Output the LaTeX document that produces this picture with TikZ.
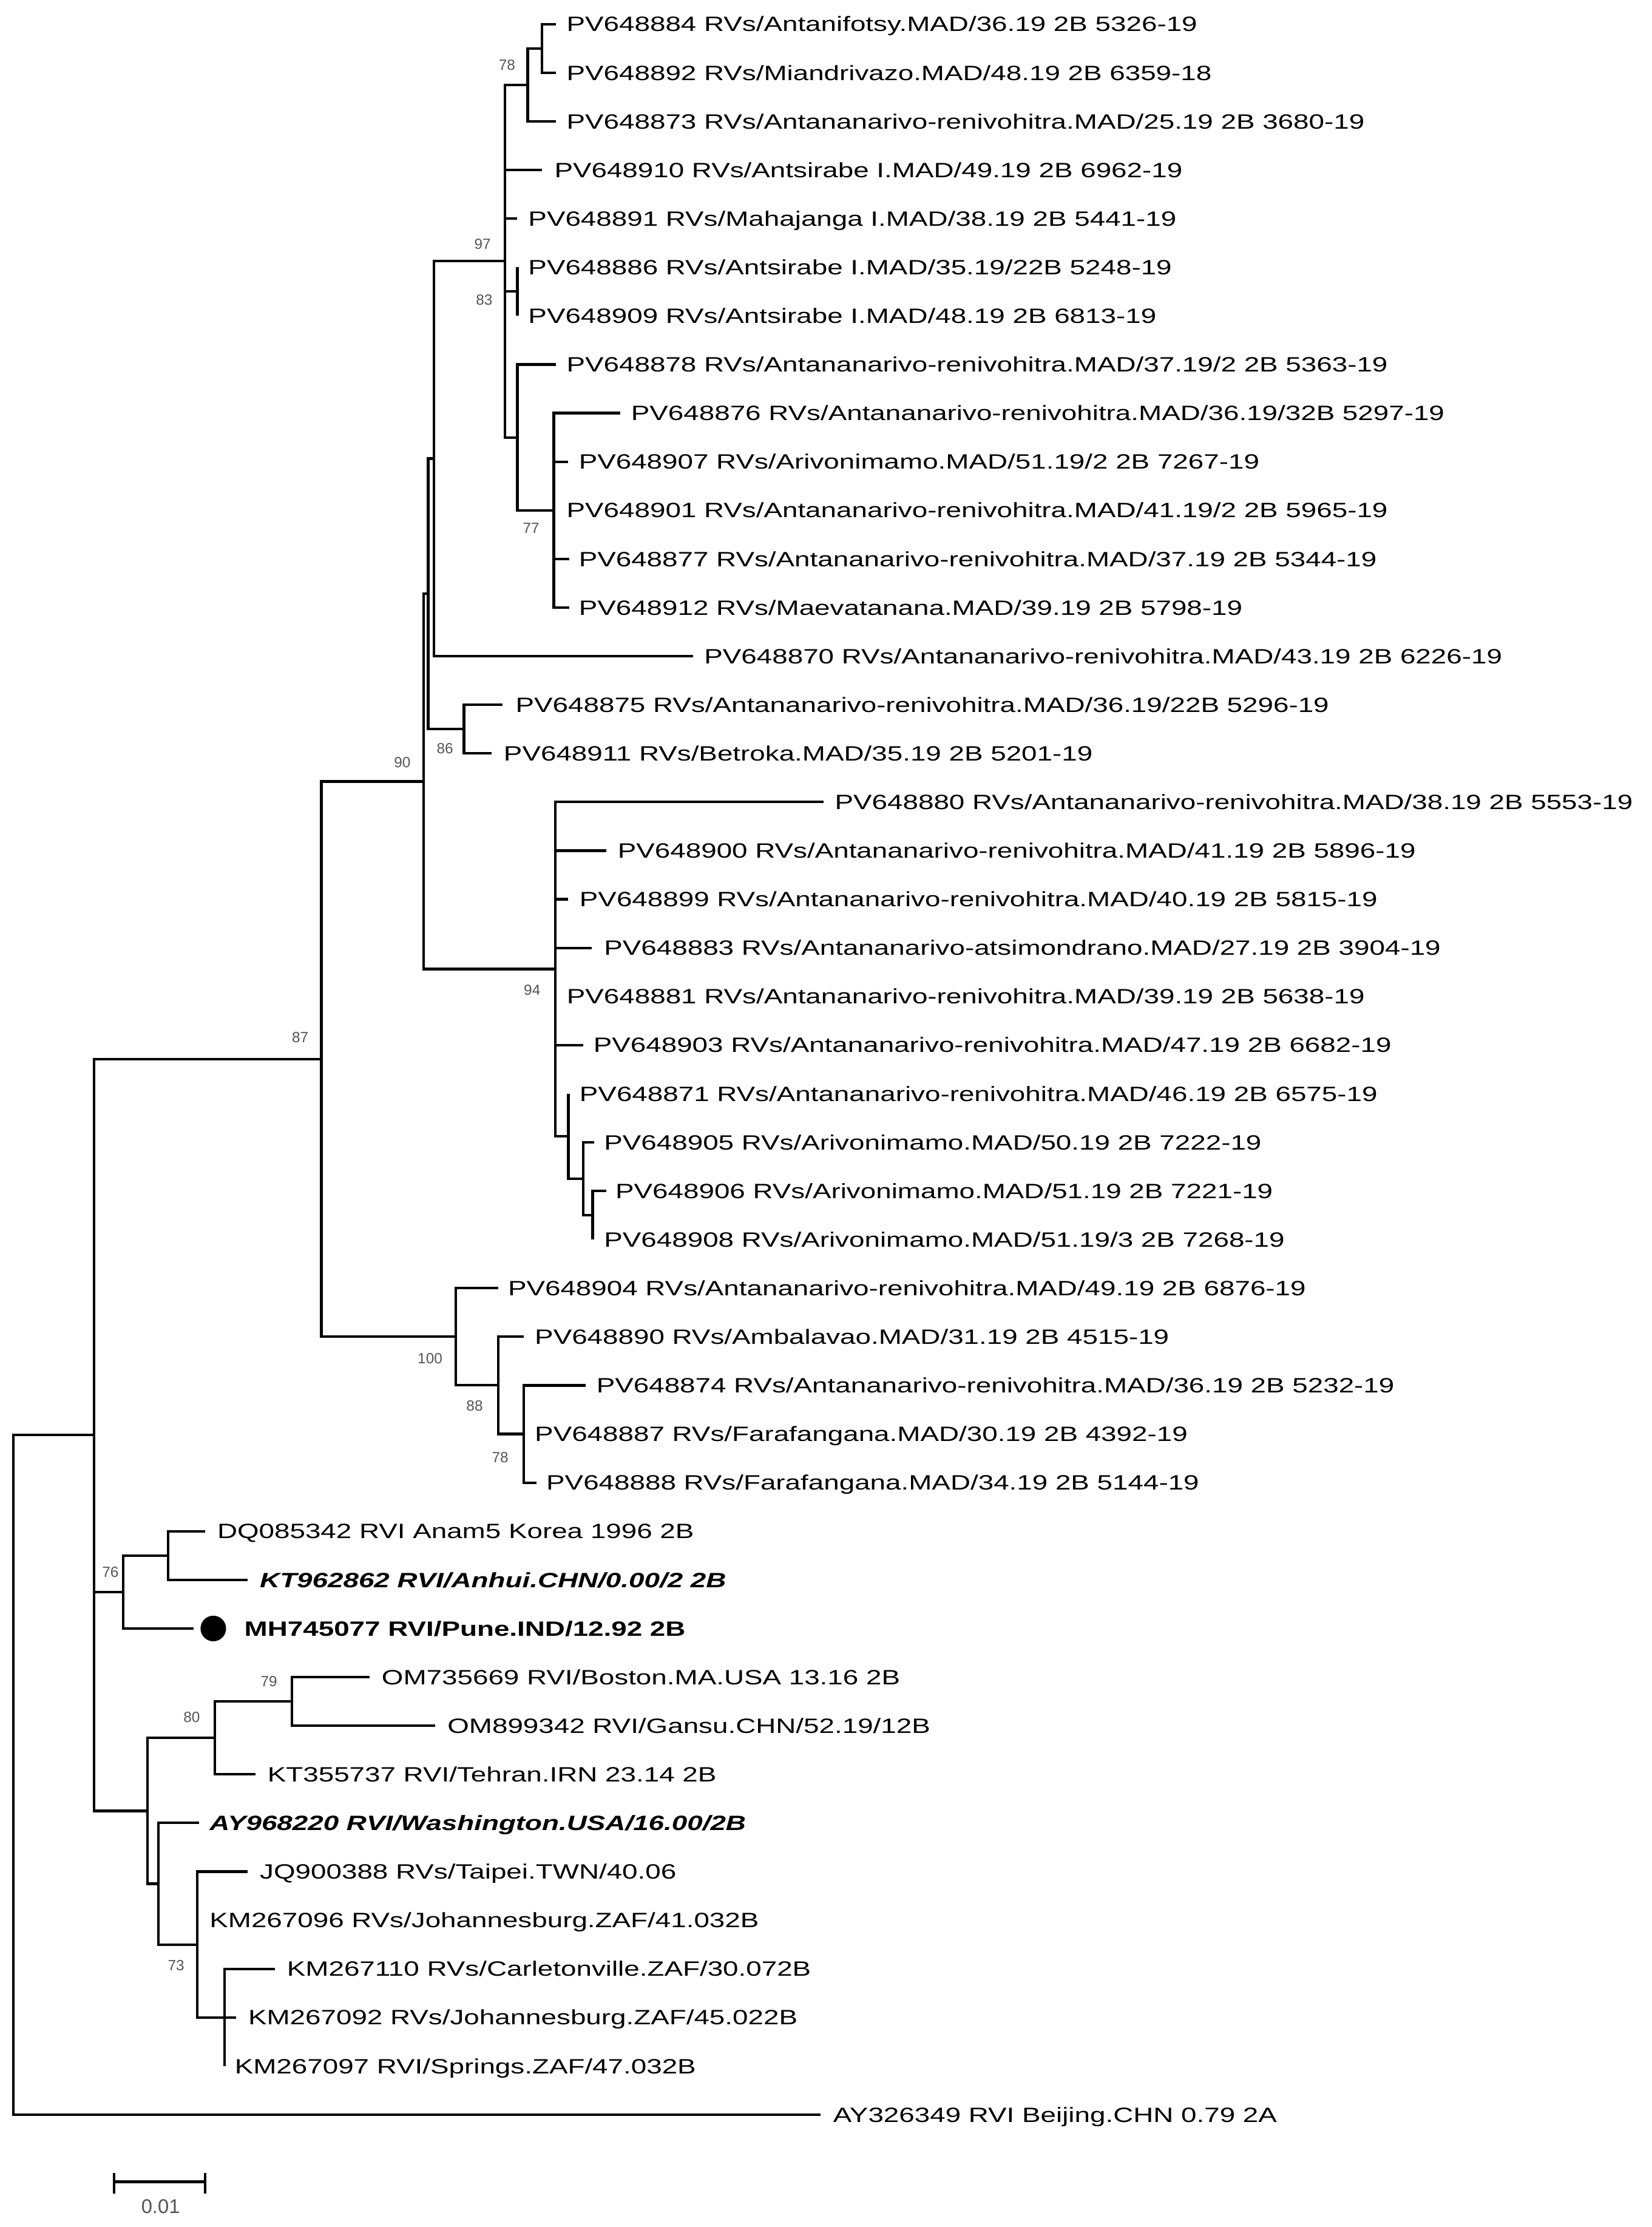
\documentclass[tikz,border=0pt]{standalone}
\usepackage{fontspec}
\setmainfont{Liberation Sans}[FakeStretch=1.34]
\newfontfamily\bsfam{Liberation Sans}
\definecolor{bsgray}{HTML}{555555}
\newcommand\leaffont{\fontsize{7.3}{8.5}\selectfont}
\newcommand\bsfont{\bsfam\fontsize{5.2}{6}\selectfont}
\newcommand\sbfont{\bsfam\fontsize{7}{8}\selectfont}
\newcommand\leaf[5]{%
  \coordinate (t#1) at (#2,#3);
  \node[lab] (l#1) at (#4,#3+5.2) {#5};}
\begin{document}
\begin{tikzpicture}[x=0.5pt,y=-0.5pt,
  br/.style={draw=black,line width=0.9pt},
  lab/.style={anchor=base west,inner sep=0pt,font=\leaffont,text=black},
  bs/.style={inner sep=0pt,font=\bsfont,text=bsgray},
  dotnode/.style={circle,fill=black,inner sep=0pt,minimum size=9pt}]
\fill[white] (0,0) rectangle (1163,1568);
\useasboundingbox (0,0) rectangle (1163,1568);

% ---------- leaves ----------
\leaf{884}{391.3}{17}{398.6}{PV648884 RVs/Antanifotsy.MAD/36.19 2B 5326-19}
\leaf{892}{391.3}{51.23}{398.6}{PV648892 RVs/Miandrivazo.MAD/48.19 2B 6359-18}
\leaf{873}{391.3}{85.46}{398.6}{PV648873 RVs/Antananarivo-renivohitra.MAD/25.19 2B 3680-19}
\leaf{910}{381.5}{119.69}{390}{PV648910 RVs/Antsirabe I.MAD/49.19 2B 6962-19}
\leaf{891}{364.3}{153.92}{371.6}{PV648891 RVs/Mahajanga I.MAD/38.19 2B 5441-19}
\leaf{886}{364.3}{188.15}{371.6}{PV648886 RVs/Antsirabe I.MAD/35.19/22B 5248-19}
\leaf{909}{364.3}{222.38}{371.6}{PV648909 RVs/Antsirabe I.MAD/48.19 2B 6813-19}
\leaf{878}{391.3}{256.61}{398.6}{PV648878 RVs/Antananarivo-renivohitra.MAD/37.19/2 2B 5363-19}
\leaf{876}{436.6}{290.84}{444}{PV648876 RVs/Antananarivo-renivohitra.MAD/36.19/32B 5297-19}
\leaf{907}{399.8}{325.07}{407.2}{PV648907 RVs/Arivonimamo.MAD/51.19/2 2B 7267-19}
\leaf{901}{390}{359.3}{398.6}{PV648901 RVs/Antananarivo-renivohitra.MAD/41.19/2 2B 5965-19}
\leaf{877}{400.9}{393.53}{407.2}{PV648877 RVs/Antananarivo-renivohitra.MAD/37.19 2B 5344-19}
\leaf{912}{400.9}{427.76}{407.2}{PV648912 RVs/Maevatanana.MAD/39.19 2B 5798-19}
\leaf{870}{488}{461.99}{495.5}{PV648870 RVs/Antananarivo-renivohitra.MAD/43.19 2B 6226-19}
\leaf{875}{353.7}{496.22}{362.7}{PV648875 RVs/Antananarivo-renivohitra.MAD/36.19/22B 5296-19}
\leaf{911}{346.2}{530.45}{354.3}{PV648911 RVs/Betroka.MAD/35.19 2B 5201-19}
\leaf{880}{580}{564.68}{587.5}{PV648880 RVs/Antananarivo-renivohitra.MAD/38.19 2B 5553-19}
\leaf{900}{427.1}{598.91}{434.6}{PV648900 RVs/Antananarivo-renivohitra.MAD/41.19 2B 5896-19}
\leaf{899}{400.2}{633.14}{407.7}{PV648899 RVs/Antananarivo-renivohitra.MAD/40.19 2B 5815-19}
\leaf{883}{416.6}{667.37}{425}{PV648883 RVs/Antananarivo-atsimondrano.MAD/27.19 2B 3904-19}
\leaf{881}{391.2}{701.6}{398.7}{PV648881 RVs/Antananarivo-renivohitra.MAD/39.19 2B 5638-19}
\leaf{903}{410.7}{735.83}{417.5}{PV648903 RVs/Antananarivo-renivohitra.MAD/47.19 2B 6682-19}
\leaf{871}{400.2}{770.06}{407.7}{PV648871 RVs/Antananarivo-renivohitra.MAD/46.19 2B 6575-19}
\leaf{905}{418.2}{804.29}{425}{PV648905 RVs/Arivonimamo.MAD/50.19 2B 7222-19}
\leaf{906}{427.1}{838.52}{433}{PV648906 RVs/Arivonimamo.MAD/51.19 2B 7221-19}
\leaf{908}{417.3}{872.75}{425}{PV648908 RVs/Arivonimamo.MAD/51.19/3 2B 7268-19}
\leaf{904}{350.7}{906.98}{357.3}{PV648904 RVs/Antananarivo-renivohitra.MAD/49.19 2B 6876-19}
\leaf{890}{368.7}{941.21}{376.2}{PV648890 RVs/Ambalavao.MAD/31.19 2B 4515-19}
\leaf{874}{412.2}{975.44}{419.6}{PV648874 RVs/Antananarivo-renivohitra.MAD/36.19 2B 5232-19}
\leaf{887}{368.7}{1009.67}{376.2}{PV648887 RVs/Farafangana.MAD/30.19 2B 4392-19}
\leaf{888}{377.7}{1043.9}{384.3}{PV648888 RVs/Farafangana.MAD/34.19 2B 5144-19}
\leaf{DQ}{144.4}{1078.13}{152.6}{DQ085342 RVI Anam5 Korea 1996 2B}
\leaf{KTa}{174.4}{1112.36}{182.6}{\textbf{\textit{KT962862 RVI/Anhui.CHN/0.00/2 2B}}}
\leaf{MH}{136.3}{1146.59}{171.7}{\textbf{MH745077 RVI/Pune.IND/12.92 2B}}
\leaf{OMa}{260.2}{1180.82}{268.4}{OM735669 RVI/Boston.MA.USA 13.16 2B}
\leaf{OMb}{306.6}{1215.05}{314.7}{OM899342 RVI/Gansu.CHN/52.19/12B}
\leaf{KTb}{179.9}{1249.28}{188}{KT355737 RVI/Tehran.IRN 23.14 2B}
\leaf{AYa}{140.3}{1283.51}{147.2}{\textbf{\textit{AY968220 RVI/Washington.USA/16.00/2B}}}
\leaf{JQ}{174.4}{1317.74}{182.6}{JQ900388 RVs/Taipei.TWN/40.06}
\leaf{KMa}{139}{1351.97}{147.2}{KM267096 RVs/Johannesburg.ZAF/41.032B}
\leaf{KMb}{193.5}{1386.2}{201.7}{KM267110 RVs/Carletonville.ZAF/30.072B}
\leaf{KMc}{166.2}{1420.43}{174.4}{KM267092 RVs/Johannesburg.ZAF/45.022B}
\leaf{KMd}{158}{1454.66}{164.9}{KM267097 RVI/Springs.ZAF/47.032B}
\leaf{AYb}{578}{1488.89}{586.3}{AY326349 RVI Beijing.CHN 0.79 2A}

\node[dotnode] (dot) at (150.2,1146.59) {};

% ---------- internal nodes ----------
\coordinate (nA) at (381.5,34.1);
\coordinate (nB) at (371.6,59.8);
\coordinate (n83) at (364.3,205.3);
\coordinate (n77) at (390,359.3);
\coordinate (nC) at (364.3,307.96);
\coordinate (n97) at (355.7,183.9);
\coordinate (nNa) at (305.4,322.9);
\coordinate (n86) at (326.7,513.3);
\coordinate (nNb) at (301.5,418.1);
\coordinate (nF) at (417.3,855.6);
\coordinate (nE) at (410.7,830);
\coordinate (nD) at (400.2,800);
\coordinate (n94) at (391.2,682.3);
\coordinate (n90) at (298.3,550.2);
\coordinate (n78b) at (368.7,1009.67);
\coordinate (n88) at (350.7,975.4);
\coordinate (n100) at (320.8,941.2);
\coordinate (n87) at (226.3,745.7);
\coordinate (nDK) at (118.3,1095.2);
\coordinate (n76) at (86.9,1120.9);
\coordinate (n79) at (205.7,1197.9);
\coordinate (n80) at (151.2,1223.6);
\coordinate (nJ) at (158,1420.43);
\coordinate (n73) at (139,1369.1);
\coordinate (nI) at (111.7,1326.3);
\coordinate (nH) at (103.8,1275);
\coordinate (nG) at (66.2,1010.3);
\coordinate (nR) at (9.3,1249.6);

% ---------- branches ----------
\foreach \p/\c in {nA/t884,nA/t892,nB/nA,nB/t873,
  n97/nB,n97/t910,n97/t891,n97/n83,n97/nC,
  n83/t886,n83/t909,nC/t878,nC/n77,
  n77/t876,n77/t907,n77/t901,n77/t877,n77/t912,
  nNa/n97,nNa/t870,nNb/nNa,nNb/n86,n86/t875,n86/t911,
  n90/nNb,n90/n94,
  n94/t880,n94/t900,n94/t899,n94/t883,n94/t881,n94/t903,n94/nD,
  nD/t871,nD/nE,nE/t905,nE/nF,nF/t906,nF/t908,
  n100/t904,n100/n88,n88/t890,n88/n78b,n78b/t874,n78b/t887,n78b/t888,
  n87/n90,n87/n100,
  nDK/tDQ,nDK/tKTa,n76/nDK,n76/tMH,
  n79/tOMa,n79/tOMb,n80/n79,n80/tKTb,
  nJ/tKMb,nJ/tKMc,nJ/tKMd,n73/tJQ,n73/tKMa,n73/nJ,
  nI/tAYa,nI/n73,nH/n80,nH/nI,
  nG/n87,nG/n76,nG/nH,nR/nG,nR/tAYb}
  \draw[br] (\p) |- (\c);

% ---------- bootstrap values ----------
\node[bs] (b78a) at (357,45.8) {78};
\node[bs] (b97) at (339.8,171.7) {97};
\node[bs] (b83) at (341,211) {83};
\node[bs] (b77) at (374,372) {77};
\node[bs] (b90) at (283.3,536.7) {90};
\node[bs] (b86) at (313.3,527) {86};
\node[bs] (b87) at (211.4,730.3) {87};
\node[bs] (b94) at (374.7,697) {94};
\node[bs] (b100) at (302.8,956.5) {100};
\node[bs] (b88) at (334.2,990) {88};
\node[bs] (b78b) at (352.2,1026) {78};
\node[bs] (b76) at (77.7,1107) {76};
\node[bs] (b79) at (189.4,1184) {79};
\node[bs] (b80) at (135,1209) {80};
\node[bs] (b73) at (124,1384) {73};

% ---------- scale bar ----------
\coordinate (sbL) at (80.4,1536.1);
\coordinate (sbR) at (144.4,1536.1);
\coordinate (sbLt) at (80.4,1529.8);
\coordinate (sbLb) at (80.4,1544.3);
\coordinate (sbRt) at (144.4,1529.8);
\coordinate (sbRb) at (144.4,1544.3);
\draw[br] (sbL) -- (sbR);
\draw[br] (sbLt) -- (sbLb);
\draw[br] (sbRt) -- (sbRb);
\node[inner sep=0pt,font=\sbfont,text=bsgray] (sblab) at (113.1,1553.4) {0.01};
\end{tikzpicture}
\end{document}
